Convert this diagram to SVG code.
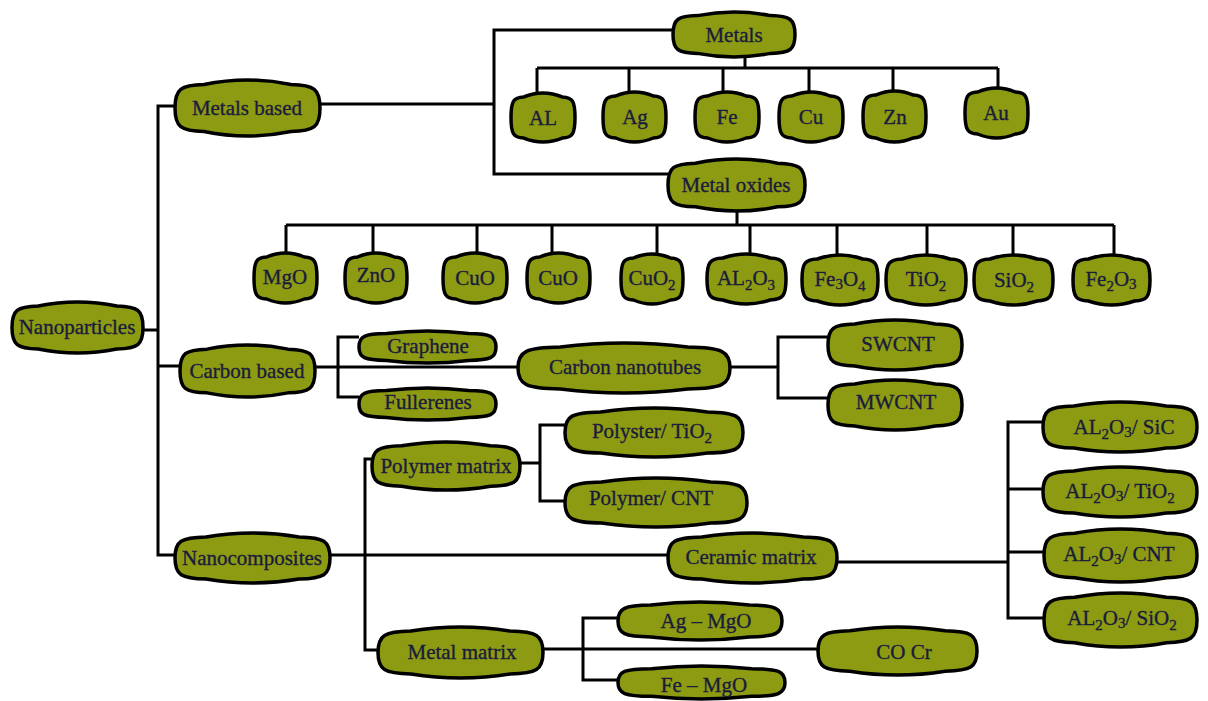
<svg xmlns="http://www.w3.org/2000/svg" xmlns:xlink="http://www.w3.org/1999/xlink" width="1208" height="701" viewBox="0 0 1208 701">
<style>
.c path{fill:none;stroke:#000;stroke-width:3}
.b{fill:#8C9B12;stroke:#000;stroke-width:3.5}
.n text{font-family:"Liberation Serif","Times New Roman",serif;font-size:21px;fill:#1b1b3c;stroke:#1b1b3c;stroke-width:0.35;text-anchor:middle}
.s{font-size:15px}
</style>
<defs>
<path id="b" class="b" vector-effect="non-scaling-stroke" d="M0 50C0 16 4 9 20 8Q50 -8 80 8C96 9 100 16 100 50C100 84 96 91 80 92Q50 108 20 92C4 91 0 84 0 50Z"/>
</defs>
<rect width="1208" height="701" fill="#fff"/>
<g id="connectors" class="c">
<path d="M143 330H158M175 106H158V555H175M158 366H180"/>
<path d="M320 104H494M673 30H494V174H668"/>
<path d="M745 57V68M537 68H998M537 68V93M629 68V92M723 68V92M809 68V92M893 68V91M998 68V88"/>
<path d="M737 211V225M286 225H1114M286 225V253M373 225V253M477 225V253M552 225V253M657 225V254M750 225V254M837 225V255M927 225V255M1013 225V255M1114 225V255"/>
<path d="M315 367H518M359 337H338V397H359"/>
<path d="M730 367H778M828 337H778V398H828"/>
<path d="M330 555H668"/>
<path d="M372 459H365V650H378"/>
<path d="M520 463H540M565 425H540V501H565"/>
<path d="M543 649H818M618 618H583V680H618"/>
<path d="M837 562H1008M1043 422H1008V618H1044M1008 489H1043M1008 552H1044"/>
</g>
<g id="nanoparticles" class="n"><use xlink:href="#b" href="#b" transform="translate(12 302) scale(1.31 .51)"/><text x="77" y="334">Nanoparticles</text></g>
<g id="metals-based" class="n"><use href="#b" transform="translate(175 80) scale(1.45 .56)"/><text x="247" y="115">Metals based</text></g>
<g id="carbon-based" class="n"><use href="#b" transform="translate(180 345) scale(1.35 .52)"/><text x="247" y="378">Carbon based</text></g>
<g id="nanocomposites" class="n"><use href="#b" transform="translate(175 533) scale(1.55 .5)"/><text x="252" y="565">Nanocomposites</text></g>
<g id="metals" class="n"><use href="#b" transform="translate(673 12) scale(1.22 .45)"/><text x="734" y="42">Metals</text></g>
<g id="al" class="n"><use href="#b" transform="translate(511 93) scale(.64 .49)"/><text x="543" y="125">AL</text></g>
<g id="ag" class="n"><use href="#b" transform="translate(603 92) scale(.63 .5)"/><text x="635" y="124">Ag</text></g>
<g id="fe" class="n"><use href="#b" transform="translate(695 92) scale(.64 .5)"/><text x="727" y="124">Fe</text></g>
<g id="cu" class="n"><use href="#b" transform="translate(779 92) scale(.64 .5)"/><text x="811" y="124">Cu</text></g>
<g id="zn" class="n"><use href="#b" transform="translate(863 91) scale(.63 .51)"/><text x="895" y="124">Zn</text></g>
<g id="au" class="n"><use href="#b" transform="translate(965 88) scale(.63 .5)"/><text x="996" y="120">Au</text></g>
<g id="metal-oxides" class="n"><use href="#b" transform="translate(668 159) scale(1.37 .52)"/><text x="736" y="192">Metal oxides</text></g>
<g id="mgo" class="n"><use href="#b" transform="translate(254 253) scale(.63 .5)"/><text x="285" y="284">MgO</text></g>
<g id="zno" class="n"><use href="#b" transform="translate(345 253) scale(.62 .5)"/><text x="376" y="282">ZnO</text></g>
<g id="cuo-1" class="n"><use href="#b" transform="translate(443 253) scale(.64 .5)"/><text x="475" y="285">CuO</text></g>
<g id="cuo-2" class="n"><use href="#b" transform="translate(527 253) scale(.63 .5)"/><text x="558" y="285">CuO</text></g>
<g id="cuo2" class="n"><use href="#b" transform="translate(621 254) scale(.62 .5)"/><text x="652" y="285">CuO<tspan class="s" dy="5">2</tspan></text></g>
<g id="al2o3" class="n"><use href="#b" transform="translate(707 254) scale(.79 .5)"/><text x="746" y="285">AL<tspan class="s" dy="5">2</tspan><tspan dy="-5">O</tspan><tspan class="s" dy="5">3</tspan></text></g>
<g id="fe3o4" class="n"><use href="#b" transform="translate(802 255) scale(.76 .5)"/><text x="840" y="286">Fe<tspan class="s" dy="3">3</tspan><tspan dy="-3">O</tspan><tspan class="s" dy="5">4</tspan></text></g>
<g id="tio2" class="n"><use href="#b" transform="translate(886 255) scale(.8 .5)"/><text x="926" y="286">TiO<tspan class="s" dy="5">2</tspan></text></g>
<g id="sio2" class="n"><use href="#b" transform="translate(974 255) scale(.79 .5)"/><text x="1014" y="287">SiO<tspan class="s" dy="5">2</tspan></text></g>
<g id="fe2o3" class="n"><use href="#b" transform="translate(1073 255) scale(.77 .5)"/><text x="1111" y="286">Fe<tspan class="s" dy="5">2</tspan><tspan dy="-5">O</tspan><tspan class="s" dy="3">3</tspan></text></g>
<g id="graphene" class="n"><use href="#b" transform="translate(359 331) scale(1.37 .32)"/><text x="428" y="353">Graphene</text></g>
<g id="fullerenes" class="n"><use href="#b" transform="translate(359 388) scale(1.37 .32)"/><text x="428" y="409">Fullerenes</text></g>
<g id="carbon-nanotubes" class="n"><use href="#b" transform="translate(518 343) scale(2.12 .5)"/><text x="625" y="374">Carbon nanotubes</text></g>
<g id="swcnt" class="n"><use href="#b" transform="translate(828 320) scale(1.34 .5)"/><text x="898" y="351">SWCNT</text></g>
<g id="mwcnt" class="n"><use href="#b" transform="translate(828 380) scale(1.34 .5)"/><text x="896" y="409">MWCNT</text></g>
<g id="polymer-matrix" class="n"><use href="#b" transform="translate(372 442) scale(1.48 .48)"/><text x="446" y="473">Polymer matrix</text></g>
<g id="polyster-tio2" class="n"><use href="#b" transform="translate(565 408) scale(1.78 .49)"/><text x="652" y="438">Polyster/ TiO<tspan class="s" dy="5">2</tspan></text></g>
<g id="polymer-cnt" class="n"><use href="#b" transform="translate(565 478) scale(1.82 .49)"/><text x="651" y="505">Polymer/ CNT</text></g>
<g id="ceramic-matrix" class="n"><use href="#b" transform="translate(668 533) scale(1.69 .5)"/><text x="751" y="564">Ceramic matrix</text></g>
<g id="metal-matrix" class="n"><use href="#b" transform="translate(378 627) scale(1.65 .51)"/><text x="462" y="659">Metal matrix</text></g>
<g id="ag-mgo" class="n"><use href="#b" transform="translate(618 602) scale(1.64 .38)"/><text x="706" y="628">Ag – MgO</text></g>
<g id="fe-mgo" class="n"><use href="#b" transform="translate(618 666) scale(1.67 .33)"/><text x="704" y="692">Fe – MgO</text></g>
<g id="co-cr" class="n"><use href="#b" transform="translate(818 627) scale(1.59 .48)"/><text x="904" y="659">CO Cr</text></g>
<g id="al2o3-sic" class="n"><use href="#b" transform="translate(1043 402) scale(1.54 .5)"/><text x="1124" y="434">AL<tspan class="s" dy="5">2</tspan><tspan dy="-5">O</tspan><tspan class="s" dy="3">3</tspan><tspan dy="-3">/ SiC</tspan></text></g>
<g id="al2o3-tio2" class="n"><use href="#b" transform="translate(1043 467) scale(1.54 .5)"/><text x="1120" y="498">AL<tspan class="s" dy="5">2</tspan><tspan dy="-5">O</tspan><tspan class="s" dy="3">3</tspan><tspan dy="-3">/ TiO</tspan><tspan class="s" dy="5">2</tspan></text></g>
<g id="al2o3-cnt" class="n"><use href="#b" transform="translate(1044 529) scale(1.53 .53)"/><text x="1119" y="561">AL<tspan class="s" dy="5">2</tspan><tspan dy="-5">O</tspan><tspan class="s" dy="3">3</tspan><tspan dy="-3">/ CNT</tspan></text></g>
<g id="al2o3-sio2" class="n"><use href="#b" transform="translate(1044 593) scale(1.53 .54)"/><text x="1122" y="625">AL<tspan class="s" dy="5">2</tspan><tspan dy="-5">O</tspan><tspan class="s" dy="3">3</tspan><tspan dy="-3">/ SiO</tspan><tspan class="s" dy="5">2</tspan></text></g>
</svg>
